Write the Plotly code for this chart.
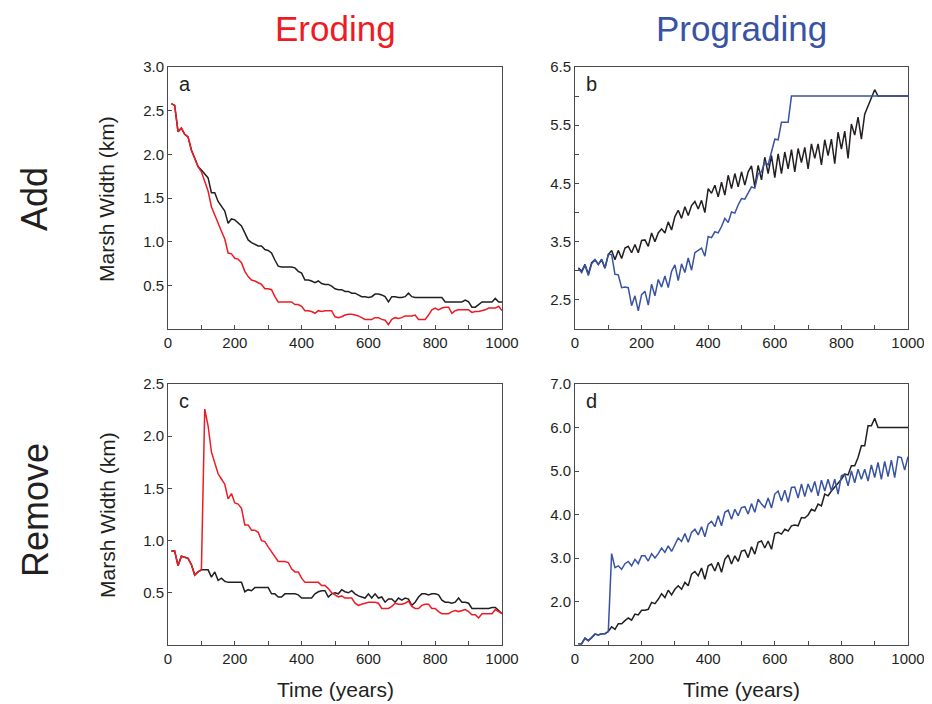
import plotly.graph_objects as go
from plotly.subplots import make_subplots

# ---------------- data ----------------
time_years = list(range(10, 1001, 10))

add_eroding_black = [
    2.58, 2.56, 2.26, 2.30, 2.23, 2.20, 2.05, 1.95, 1.86, 1.82,
    1.77, 1.73, 1.56, 1.56, 1.46, 1.40, 1.35, 1.21, 1.26, 1.25,
    1.21, 1.18, 1.10, 1.02, 0.99, 0.97, 0.95, 0.95, 0.91, 0.90,
    0.87, 0.79, 0.72, 0.71, 0.71, 0.71, 0.71, 0.70, 0.66, 0.64,
    0.56, 0.56, 0.55, 0.53, 0.55, 0.52, 0.51, 0.51, 0.49, 0.46,
    0.45, 0.45, 0.43, 0.43, 0.41, 0.41, 0.39, 0.37, 0.37, 0.36,
    0.37, 0.40, 0.40, 0.39, 0.37, 0.31, 0.37, 0.37, 0.36, 0.36,
    0.37, 0.41, 0.37, 0.36, 0.36, 0.36, 0.36, 0.36, 0.36, 0.36,
    0.36, 0.36, 0.31, 0.31, 0.31, 0.31, 0.31, 0.31, 0.33, 0.31,
    0.25, 0.25, 0.28, 0.31, 0.31, 0.31, 0.31, 0.35, 0.31, 0.31,
]
add_eroding_red = [
    2.58, 2.56, 2.26, 2.30, 2.23, 2.20, 2.05, 1.95, 1.86, 1.80,
    1.70, 1.58, 1.40, 1.30, 1.22, 1.12, 1.03, 0.87, 0.86, 0.81,
    0.80, 0.76, 0.66, 0.60, 0.56, 0.55, 0.53, 0.51, 0.46, 0.46,
    0.45, 0.37, 0.31, 0.31, 0.31, 0.31, 0.31, 0.28, 0.28, 0.26,
    0.21, 0.21, 0.20, 0.18, 0.21, 0.20, 0.21, 0.21, 0.21, 0.14,
    0.13, 0.14, 0.16, 0.17, 0.17, 0.16, 0.15, 0.13, 0.11, 0.11,
    0.11, 0.13, 0.13, 0.11, 0.10, 0.05, 0.11, 0.13, 0.12, 0.13,
    0.15, 0.15, 0.15, 0.16, 0.11, 0.11, 0.11, 0.16, 0.22, 0.24,
    0.22, 0.24, 0.25, 0.25, 0.18, 0.21, 0.22, 0.22, 0.22, 0.22,
    0.19, 0.20, 0.20, 0.21, 0.22, 0.24, 0.24, 0.24, 0.26, 0.21,
]

add_prograding_black = [
    3.05, 2.99, 3.11, 2.94, 3.14, 3.19, 3.11, 3.19, 3.05, 3.28,
    3.35, 3.19, 3.35, 3.21, 3.39, 3.42, 3.31, 3.45, 3.31, 3.52,
    3.53, 3.42, 3.65, 3.50, 3.65, 3.72, 3.65, 3.84, 3.70, 3.93,
    4.04, 3.90, 4.10, 3.95, 4.12, 4.19, 4.06, 4.21, 4.00, 4.41,
    4.33, 4.47, 4.27, 4.52, 4.30, 4.64, 4.41, 4.67, 4.44, 4.70,
    4.47, 4.70, 4.80, 4.44, 4.81, 4.56, 4.95, 4.67, 4.98, 4.60,
    5.01, 4.67, 5.04, 4.75, 5.08, 4.70, 5.10, 4.86, 5.12, 4.75,
    5.18, 4.93, 5.18, 4.82, 5.25, 4.98, 5.26, 4.84, 5.38, 5.09,
    5.40, 4.93, 5.52, 5.33, 5.64, 5.26, 5.69, 5.83, 5.95, 6.11,
    6.00, 6.00, 6.00, 6.00, 6.00, 6.00, 6.00, 6.00, 6.00, 6.00,
]
add_prograding_blue = [
    3.04, 2.97, 3.10, 2.92, 3.12, 3.19, 3.11, 3.20, 3.04, 3.28,
    3.28, 2.94, 2.93, 2.71, 2.72, 2.71, 2.40, 2.57, 2.31, 2.59,
    2.65, 2.41, 2.77, 2.57, 2.85, 2.72, 2.91, 2.71, 2.99, 3.10,
    2.83, 3.12, 2.97, 3.22, 3.01, 3.31, 3.35, 3.39, 3.25, 3.59,
    3.57, 3.67, 3.65, 3.76, 3.90, 3.83, 4.01, 3.99, 4.13, 4.24,
    4.23, 4.35, 4.44, 4.42, 4.67, 4.70, 4.87, 4.82, 5.04, 5.26,
    5.25, 5.55, 5.55, 5.55, 6.00, 6.00, 6.00, 6.00, 6.00, 6.00,
    6.00, 6.00, 6.00, 6.00, 6.00, 6.00, 6.00, 6.00, 6.00, 6.00,
    6.00, 6.00, 6.00, 6.00, 6.00, 6.00, 6.00, 6.00, 6.00, 6.00,
    6.00, 6.00, 6.00, 6.00, 6.00, 6.00, 6.00, 6.00, 6.00, 6.00,
]

remove_eroding_black = [
    0.90, 0.90, 0.76, 0.85, 0.84, 0.83, 0.77, 0.67, 0.70, 0.72,
    0.72, 0.72, 0.65, 0.70, 0.62, 0.64, 0.61, 0.60, 0.60, 0.60,
    0.60, 0.60, 0.51, 0.53, 0.52, 0.55, 0.55, 0.55, 0.55, 0.55,
    0.49, 0.49, 0.46, 0.46, 0.49, 0.49, 0.49, 0.49, 0.48, 0.45,
    0.45, 0.45, 0.45, 0.49, 0.51, 0.52, 0.52, 0.46, 0.49, 0.50,
    0.49, 0.53, 0.51, 0.50, 0.52, 0.49, 0.47, 0.46, 0.45, 0.49,
    0.45, 0.49, 0.45, 0.46, 0.41, 0.44, 0.44, 0.41, 0.45, 0.43,
    0.45, 0.44, 0.38, 0.41, 0.46, 0.49, 0.49, 0.48, 0.49, 0.49,
    0.48, 0.43, 0.41, 0.41, 0.40, 0.41, 0.45, 0.41, 0.41, 0.40,
    0.35, 0.35, 0.35, 0.35, 0.35, 0.35, 0.36, 0.36, 0.33, 0.30,
]
remove_eroding_red = [
    0.90, 0.90, 0.76, 0.85, 0.84, 0.83, 0.77, 0.67, 0.70, 0.72,
    2.26, 2.10, 1.85, 1.75, 1.64, 1.59, 1.54, 1.40, 1.45, 1.36,
    1.35, 1.31, 1.15, 1.15, 1.10, 1.10, 1.08, 1.00, 0.99, 0.94,
    0.89, 0.84, 0.80, 0.80, 0.80, 0.79, 0.73, 0.70, 0.70, 0.64,
    0.60, 0.60, 0.60, 0.60, 0.60, 0.57, 0.57, 0.54, 0.50, 0.48,
    0.46, 0.47, 0.45, 0.45, 0.45, 0.40, 0.38, 0.39, 0.40, 0.41,
    0.41, 0.41, 0.40, 0.35, 0.35, 0.35, 0.37, 0.40, 0.39, 0.39,
    0.40, 0.42, 0.37, 0.35, 0.35, 0.38, 0.39, 0.39, 0.35, 0.35,
    0.32, 0.30, 0.30, 0.30, 0.32, 0.33, 0.32, 0.33, 0.34, 0.32,
    0.29, 0.29, 0.26, 0.30, 0.30, 0.30, 0.30, 0.34, 0.32, 0.30,
]

remove_prograding_black = [
    1.03, 1.03, 1.16, 1.10, 1.17, 1.25, 1.23, 1.26, 1.26, 1.31,
    1.42, 1.36, 1.49, 1.49, 1.56, 1.62, 1.57, 1.71, 1.69, 1.80,
    1.80, 1.82, 1.98, 1.95, 2.05, 2.18, 2.09, 2.26, 2.15, 2.28,
    2.36, 2.28, 2.44, 2.36, 2.63, 2.69, 2.59, 2.77, 2.51, 2.82,
    2.86, 2.70, 2.90, 2.67, 2.97, 3.07, 2.86, 3.05, 2.92, 3.16,
    3.18, 3.01, 3.26, 3.09, 3.36, 3.39, 3.23, 3.39, 3.20, 3.56,
    3.59, 3.55, 3.66, 3.62, 3.74, 3.76, 3.74, 3.93, 3.92, 3.99,
    4.12, 4.08, 4.24, 4.20, 4.47, 4.43, 4.54, 4.63, 4.70, 4.81,
    4.93, 4.91, 5.12, 5.12, 5.31, 5.58, 5.58, 6.04, 6.04, 6.21,
    6.00, 6.00, 6.00, 6.00, 6.00, 6.00, 6.00, 6.00, 6.00, 6.00,
]
remove_prograding_blue = [
    1.03, 1.03, 1.16, 1.10, 1.17, 1.25, 1.23, 1.26, 1.26, 1.31,
    3.10, 2.78, 2.82, 2.74, 2.87, 2.92, 2.82, 2.97, 2.87, 3.05,
    3.05, 2.93, 3.10, 3.00, 3.10, 3.23, 3.13, 3.28, 3.15, 3.32,
    3.46, 3.38, 3.56, 3.36, 3.59, 3.66, 3.53, 3.72, 3.49, 3.78,
    3.84, 3.72, 3.97, 3.74, 4.05, 4.10, 3.89, 4.12, 3.97, 4.16,
    4.18, 4.01, 4.25, 4.05, 4.35, 4.24, 4.16, 4.38, 4.15, 4.47,
    4.54, 4.31, 4.56, 4.28, 4.62, 4.63, 4.38, 4.70, 4.41, 4.70,
    4.51, 4.76, 4.43, 4.79, 4.54, 4.81, 4.54, 4.81, 4.47, 4.89,
    4.93, 4.66, 5.00, 4.73, 5.04, 4.81, 5.04, 4.77, 5.14, 4.85,
    5.20, 4.81, 5.22, 4.87, 5.25, 4.85, 5.33, 5.31, 5.02, 5.33,
]

x_tick_vals = [0, 200, 400, 600, 800, 1000]
y_ticks_a = [0.5, 1.0, 1.5, 2.0, 2.5, 3.0]
y_ticks_b = [2.5, 3.5, 4.5, 5.5, 6.5]
y_ticks_c = [0.5, 1.0, 1.5, 2.0, 2.5]
y_ticks_d = [2.0, 3.0, 4.0, 5.0, 6.0, 7.0]

column_titles = ["Eroding", "Prograding"]
row_titles = ["Add", "Remove"]
panel_letters = ["a", "b", "c", "d"]

# ---------------- style ----------------
# The page body keeps its default 8px margin, so the figure is drawn 8px in
# from the window's top-left corner; positions below are window pixels.
OFF = 8
SCREEN_W, SCREEN_H = 932, 704
W, H = SCREEN_W - OFF, SCREEN_H - OFF
FONT = "Liberation Sans, Arial, Helvetica, sans-serif"
TXT = "#231f20"
RED = "#ed1c24"
BLUE = "#3953a4"
BLACK = "#231f20"
FRAME = "#4a4a4a"


def px_x(X):
    return (X - OFF) / W


def px_y(Y):
    return 1 - (Y - OFF) / H


# panel boxes in window pixels: (left, right, top, bottom)
boxes = {
    (1, 1): (168, 502, 67, 329),
    (1, 2): (575, 908, 67, 329),
    (2, 1): (168, 502, 384, 645),
    (2, 2): (575, 908, 384, 645),
}

fig = make_subplots(rows=2, cols=2)

series = [
    (1, 1, add_eroding_black, add_eroding_red, RED),
    (1, 2, add_prograding_black, add_prograding_blue, BLUE),
    (2, 1, remove_eroding_black, remove_eroding_red, RED),
    (2, 2, remove_prograding_black, remove_prograding_blue, BLUE),
]
for r, c, blk, col, colr in series:
    fig.add_trace(go.Scatter(x=time_years, y=blk, mode="lines",
                             line=dict(color=BLACK, width=1.5),
                             showlegend=False, hoverinfo="skip"), row=r, col=c)
    fig.add_trace(go.Scatter(x=time_years, y=col, mode="lines",
                             line=dict(color=colr, width=1.5),
                             showlegend=False, hoverinfo="skip"), row=r, col=c)

yspecs = {
    (1, 1): ([0, 3], y_ticks_a, None),
    (1, 2): ([2.0, 6.5], y_ticks_b, 0.5),
    (2, 1): ([0, 2.5], y_ticks_c, None),
    (2, 2): ([1.0, 7.0], y_ticks_d, None),
}

for (r, c), (l, rr, t, b) in boxes.items():
    xd = [px_x(l), px_x(rr)]
    yd = [px_y(b), px_y(t)]
    fig.update_xaxes(row=r, col=c, domain=xd, range=[0, 1000], automargin=False,
                     tickvals=x_tick_vals, ticks="inside", ticklen=4,
                     tickcolor=FRAME, tickwidth=1,
                     minor=dict(dtick=100, tick0=0, ticks="inside", ticklen=4,
                                tickcolor=FRAME, tickwidth=1),
                     showline=True, linecolor=FRAME, linewidth=1, mirror=True,
                     showgrid=False, zeroline=False,
                     tickfont=dict(family=FONT, size=15, color=TXT))
    yr, yt, minor = yspecs[(r, c)]
    kw = {}
    if minor:
        kw["minor"] = dict(dtick=minor, tick0=yr[0], ticks="inside", ticklen=4,
                           tickcolor=FRAME, tickwidth=1)
    fig.update_yaxes(row=r, col=c, domain=yd, range=yr, automargin=False,
                     tickvals=yt, ticktext=[f"{v:.1f}" for v in yt],
                     ticks="inside", ticklen=4, tickcolor=FRAME, tickwidth=1,
                     showline=True, linecolor=FRAME, linewidth=1, mirror=True,
                     showgrid=False, zeroline=False,
                     tickfont=dict(family=FONT, size=15, color=TXT), **kw)

ann = []


def add_text(text, X, Y, size, color=TXT, angle=0, xanchor="center", yanchor="middle"):
    ann.append(dict(text=text, x=px_x(X), y=px_y(Y), xref="paper", yref="paper",
                    showarrow=False, textangle=angle, xanchor=xanchor, yanchor=yanchor,
                    font=dict(family=FONT, size=size, color=color)))


add_text(column_titles[0], 335, 29, 35, RED)
add_text(column_titles[1], 741, 29, 35, BLUE)
add_text(row_titles[0], 35, 199, 36, TXT, angle=-90)
add_text(row_titles[1], 35, 510, 36, TXT, angle=-90)
for ypx in (199, 515):
    add_text("Marsh Width (km)", 107, ypx, 21, TXT, angle=-90)
for xpx in (335, 741):
    add_text("Time (years)", xpx, 689, 21, TXT)
for letter, key in zip(panel_letters, [(1, 1), (1, 2), (2, 1), (2, 2)]):
    l, rr, t, b = boxes[key]
    add_text(letter, l + 9, t + 17, 20, TXT, xanchor="left")

fig.update_layout(width=W, height=H, margin=dict(l=0, r=0, t=0, b=0),
                  paper_bgcolor="white", plot_bgcolor="white",
                  annotations=ann, showlegend=False,
                  font=dict(family=FONT, color=TXT))

fig.write_html("out.html")
